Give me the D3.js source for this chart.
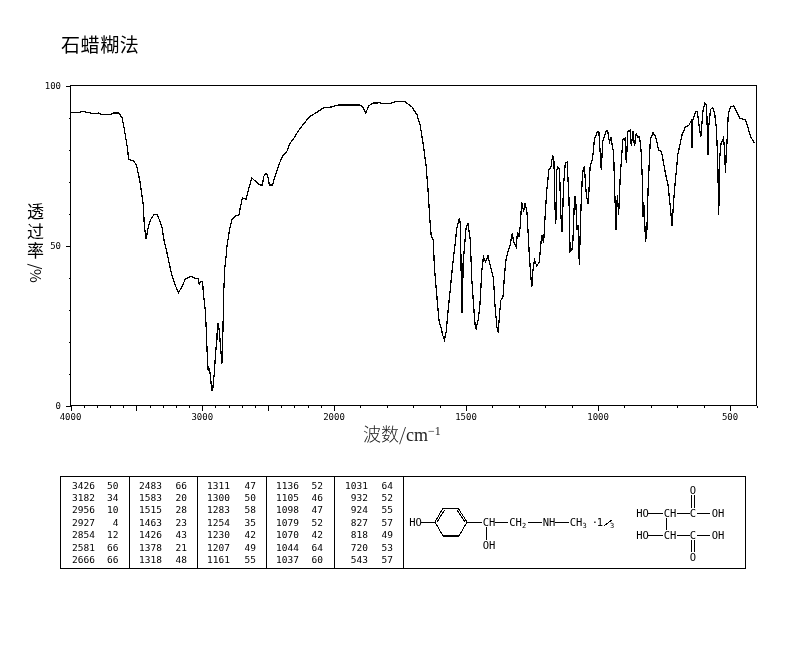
<!DOCTYPE html>
<html><head><meta charset="utf-8">
<script src="https://cdnjs.cloudflare.com/ajax/libs/d3/7.8.5/d3.min.js"></script>
<style>
html,body{margin:0;padding:0;background:#fff}
svg{display:block;filter:grayscale(1)}
.tb{font-family:"DejaVu Sans Mono",monospace;font-size:9.5px;fill:#000}
.chem{font-family:"DejaVu Sans Mono",monospace;font-size:10.5px;fill:#000}
.tick{font-family:"DejaVu Sans Mono",monospace;font-size:9px;fill:#000}
</style></head><body>
<svg id="c" width="794" height="652"></svg>
<script>
const wavenumbers=[3995,3949,3904,3826,3788,3760,3697,3672,3634,3608,3591,3570,3558,3525,3500,3475,3449,3439,3426,3414,3394,3364,3339,3305,3288,3267,3235,3205,3180,3154,3129,3086,3053,3030,3023,3010,2998,2990,2977,2970,2962,2955,2945,2934,2926,2919,2909,2899,2889,2884,2877,2869,2858,2851,2843,2836,2828,2818,2813,2793,2775,2750,2720,2710,2695,2667,2649,2624,2586,2561,2543,2533,2517,2505,2490,2467,2447,2422,2389,2358,2333,2308,2263,2187,2131,2081,2017,1984,1901,1889,1879,1870,1853,1826,1813,1788,1762,1731,1705,1686,1674,1661,1651,1644,1637,1632,1624,1620,1613,1607,1601,1596,1588,1582,1575,1569,1560,1550,1541,1535,1525,1521,1519,1516,1514,1511,1503,1500,1493,1484,1478,1469,1465,1462,1453,1447,1440,1434,1426,1417,1406,1396,1390,1383,1378,1373,1368,1360,1354,1348,1339,1333,1325,1320,1310,1305,1299,1295,1289,1282,1276,1269,1260,1253,1251,1247,1241,1232,1223,1215,1213,1206,1200,1194,1186,1179,1172,1167,1163,1160,1156,1152,1146,1141,1136,1131,1124,1117,1110,1106,1099,1095,1089,1085,1080,1075,1071,1065,1059,1052,1046,1043,1037,1030,1021,1014,1002,997,992,988,982,969,964,957,951,941,937,932,927,922,916,906,898,893,887,879,874,868,862,855,850,843,837,832,830,827,824,820,815,810,802,792,782,771,760,745,735,726,720,711,698,682,669,656,647,644,642,631,624,617,611,603,596,589,584,581,574,566,558,552,547,543,539,534,525,520,518,514,507,499,486,476,463,442,433,423,410,404];
const transmittance=[91.5,91.5,91.9,91.2,91.4,90.9,90.9,91.4,91.4,89.9,86.2,81.0,76.8,76.6,75.2,70.5,63.3,55.9,52.0,54.9,58.0,59.8,59.6,55.5,51.2,47.6,41.4,37.6,35.3,37.1,39.5,40.4,39.7,39.6,37.8,38.8,38.8,34.5,29.8,24.1,15.7,10.8,11.8,7.3,4.5,5.5,10.0,16.3,20.4,25.6,25.6,22.5,16.7,13.1,23.3,36.6,43.4,47.0,49.6,54.9,58.2,59.2,59.6,62.2,64.8,64.5,67.4,71.1,69.7,68.9,68.9,71.6,72.6,72.1,68.9,68.9,71.6,74.9,78.1,79.4,82.0,83.3,86.3,90.2,91.6,93.0,93.3,93.9,93.9,93.0,91.4,93.5,94.5,94.6,94.3,94.4,95.1,94.9,93.3,90.9,87.8,81.0,74.7,67.4,58.0,53.3,51.5,43.4,36.6,30.8,25.6,24.8,21.9,20.6,23.0,28.7,36.1,44.4,50.7,55.4,58.5,56.4,44.4,29.2,29.2,44.5,52.3,55.4,57.1,51.7,39.2,28.7,24.5,24.0,27.2,31.9,42.3,46.5,44.9,46.8,42.9,39.7,30.8,24.5,22.8,28.7,32.9,34.0,41.3,46.0,48.6,50.2,53.8,51.2,49.5,54.3,52.8,55.9,63.6,60.6,63.2,60.1,46.5,38.6,37.0,41.8,45.5,43.6,44.8,51.7,53.3,50.9,59.9,67.4,73.9,74.2,78.2,76.3,61.7,56.6,73.7,74.5,73.7,59.6,54.3,68.4,75.8,76.1,64.3,48.1,48.6,51.7,65.3,65.3,54.9,56.4,43.9,61.1,72.6,74.9,67.4,65.2,62.9,74.7,77.0,83.1,85.7,85.7,78.9,73.7,82.6,86.0,86.0,82.3,83.6,78.9,67.4,54.9,65.8,59.6,71.6,83.1,83.6,75.8,85.7,86.0,81.0,85.7,81.0,85.2,83.8,84.1,79.4,70.0,59.0,63.7,58.5,51.2,54.9,69.0,83.1,85.2,84.1,79.9,79.4,72.6,69.0,61.7,56.2,66.9,78.4,84.6,87.1,87.6,89.0,80.5,88.8,91.9,91.8,87.2,83.9,91.9,94.5,94.0,78.4,87.2,92.5,93.2,90.9,86.7,77.3,59.6,77.8,82.0,83.6,79.4,72.6,78.4,90.9,93.2,93.7,91.9,89.7,89.3,87.2,84.1,82.3,82.2];
const xTickLabels=[4000,3000,2000,1500,1000,500];
const yTickLabels=[0,50,100];
const tableCols=[
 [["3426","50"],["3182","34"],["2956","10"],["2927","4"],["2854","12"],["2581","66"],["2666","66"]],
 [["2483","66"],["1583","20"],["1515","28"],["1463","23"],["1426","43"],["1378","21"],["1318","48"]],
 [["1311","47"],["1300","50"],["1283","58"],["1254","35"],["1230","42"],["1207","49"],["1161","55"]],
 [["1136","52"],["1105","46"],["1098","47"],["1079","52"],["1070","42"],["1044","64"],["1037","60"]],
 [["1031","64"],["932","52"],["924","55"],["827","57"],["818","49"],["720","53"],["543","57"]]
];
const svg=d3.select("#c");
svg.append("rect").attr("width",794).attr("height",652).attr("fill","#fff");
const x=d3.scaleLinear().domain([4000,2000,400]).range([70.5,334,756.5]);
const y=d3.scaleLinear().domain([0,100]).range([405.5,85.5]);
const crisp="crispEdges";
svg.append("path").attr("d",`M${x(4000)} ${y(100)}H${x(400)}V${y(0)}H${x(4000)}Z`)
  .attr("fill","none").attr("stroke","#000").attr("shape-rendering",crisp);
const minor=d3.range(400,4001,100);
const gx=svg.append("g").attr("transform",`translate(0,${y(0)})`);
gx.call(d3.axisBottom(x).tickValues(minor).tickSize(2).tickFormat(""));
const gx2=svg.append("g").attr("transform",`translate(0,${y(0)})`);
gx2.call(d3.axisBottom(x).tickValues(d3.range(500,4001,500)).tickSize(5).tickFormat(""));
xTickLabels.forEach(v=>svg.append("text").attr("class","tick").attr("x",x(v)).attr("y",420)
  .attr("text-anchor","middle").text(v));
const gy=svg.append("g").attr("transform",`translate(${x(4000)},0)`);
gy.call(d3.axisLeft(y).tickValues(d3.range(0,101,10)).tickSize(2).tickFormat(""));
const gy2=svg.append("g").attr("transform",`translate(${x(4000)},0)`);
gy2.call(d3.axisLeft(y).tickValues(yTickLabels).tickSize(5).tickFormat(""));
yTickLabels.forEach(v=>svg.append("text").attr("class","tick").attr("x",61).attr("y",y(v)+3)
  .attr("text-anchor","end").text(v));
svg.selectAll(".domain").remove();
svg.selectAll(".tick line").attr("stroke","#000").attr("shape-rendering",crisp);
const line=d3.line().x((d,i)=>x(wavenumbers[i])).y(d=>y(d));
svg.append("path").datum(transmittance).attr("d",line).attr("fill","none")
  .attr("stroke","#000").attr("stroke-width",1.25).attr("shape-rendering",crisp);
const cjk='"Noto Sans CJK SC",sans-serif';
svg.append("text").attr("x",61).attr("y",52).attr("font-family",cjk).attr("font-size",19)
  .attr("letter-spacing",0.6).attr("font-weight",400).text("石蜡糊法");
svg.append("text").attr("x","27 27 27").attr("y","218 238 257")
  .attr("font-family",cjk).attr("font-size",17).attr("font-weight",400).text("透过率");
[["/",266.5],["%",276]].forEach(([t,py])=>svg.append("text")
  .attr("transform",`translate(35,${py}) rotate(90)`).attr("dy","0.35em")
  .attr("text-anchor","middle").attr("font-family",cjk).attr("font-size",15).attr("font-weight",400).text(t));
const xl=svg.append("text").attr("x",363).attr("y",441).attr("font-size",18).attr("fill","#222");
xl.append("tspan").attr("font-family",cjk).attr("font-weight",300).text("波数/");
xl.append("tspan").attr("font-family",'"Liberation Serif",serif').attr("font-size",18).text("cm");
xl.append("tspan").attr("font-family",'"Liberation Serif",serif').attr("font-size",12).attr("dy",-6).text("−1");
const tb=svg.append("g");
const hl=(d)=>tb.append("path").attr("d",d).attr("fill","none").attr("stroke","#000").attr("shape-rendering",crisp);
hl("M60.5 476.5H745.5V568.5H60.5Z");
[129.5,197.5,266.5,334.5,403.5].forEach(v=>hl(`M${v} 476.5V568.5`));
const rowY=[485,497.3,509.7,522,534.3,547,559.3];
const colA=[95,162,230,299,368], colB=[118.5,187,256,323,393];
tableCols.forEach((col,c)=>col.forEach((r,i)=>{
  tb.append("text").attr("class","tb").attr("x",colA[c]).attr("y",rowY[i]+3.5).attr("text-anchor","end").text(r[0]);
  tb.append("text").attr("class","tb").attr("x",colB[c]).attr("y",rowY[i]+3.5).attr("text-anchor","end").text(r[1]);
}));
const chem=svg.append("g");
const bond=(a,b,c,d,w)=>chem.append("line").attr("x1",a).attr("y1",b).attr("x2",c).attr("y2",d)
  .attr("stroke","#000").attr("stroke-width",w||1).attr("shape-rendering",crisp);
const lab=(t,a,b,anchor)=>chem.append("text").attr("class","chem").attr("x",a).attr("y",b+3.5)
  .attr("text-anchor",anchor||"middle").text(t);
const ring=[[435,522],[443,508],[458,508],[467,522],[459,536],[443,536]];
ring.forEach((p,i)=>{const q=ring[(i+1)%6];bond(p[0],p[1],q[0],q[1],i==4?2:1);});
bond(437,522,444.5,510);bond(465,522,457,510);
lab("HO",415.5,522);bond(421,522,435,522);
bond(467,522,482,522);lab("CH",489,522);bond(495,522,508,522);
lab("CH",515.5,522);
chem.append("text").attr("class","chem").attr("x",522).attr("y",528).style("font-size","7px").text("2");
bond(528,522,542,522);lab("NH",549,522);bond(555,522,569,522);
lab("CH",576,522);
chem.append("text").attr("class","chem").attr("x",582.5).attr("y",528).style("font-size","7px").text("3");
lab("·",595,522);lab("1",600,522);
bond(604,526,612,520);
chem.append("text").attr("class","chem").attr("x",610).attr("y",528).style("font-size","7px").text("3");
bond(486,527,486,540);lab("OH",489,545);
[513,535].forEach((r,i)=>{
  lab("HO",642.5,r);bond(648,r,663,r);lab("CH",670,r);bond(677,r,690,r);
  lab("C",693,r);bond(697,r,710,r);lab("OH",718,r);
});
bond(666,518,666,530);
lab("O",693,490);lab("O",693,557);
bond(691.5,495,691.5,508);bond(694.5,495,694.5,508);
bond(691.5,540,691.5,552);bond(694.5,540,694.5,552);
</script>
</body></html>
